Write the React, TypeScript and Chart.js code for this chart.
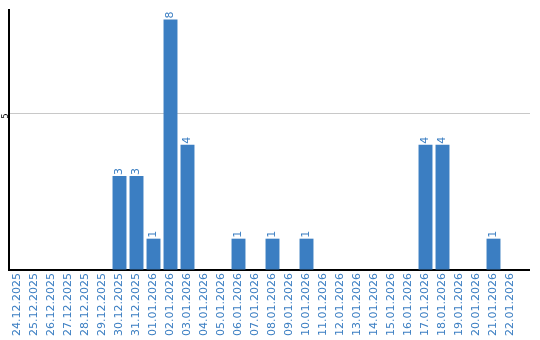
import React, { useEffect, useRef } from "react";
import { Chart, registerables } from "chart.js";

Chart.register(...registerables);

const categories = [
  "24.12.2025", "25.12.2025", "26.12.2025", "27.12.2025", "28.12.2025", "29.12.2025",
  "30.12.2025", "31.12.2025", "01.01.2026", "02.01.2026", "03.01.2026", "04.01.2026",
  "05.01.2026", "06.01.2026", "07.01.2026", "08.01.2026", "09.01.2026", "10.01.2026",
  "11.01.2026", "12.01.2026", "13.01.2026", "14.01.2026", "15.01.2026", "16.01.2026",
  "17.01.2026", "18.01.2026", "19.01.2026", "20.01.2026", "21.01.2026", "22.01.2026",
];
const values = [
  0, 0, 0, 0, 0, 0,
  3, 3, 1, 8, 4, 0,
  0, 1, 0, 1, 0, 1,
  0, 0, 0, 0, 0, 0,
  4, 4, 0, 0, 1, 0,
];
const yTicks = [5];

const BLUE = "#3b7ec2";
const FONT = "DejaVu Sans";

const valueLabels = {
  id: "valueLabels",
  afterDatasetsDraw(chart: any) {
    const ctx = chart.ctx;
    const meta = chart.getDatasetMeta(0);
    ctx.save();
    ctx.fillStyle = BLUE;
    ctx.font = `11px "${FONT}"`;
    ctx.textAlign = "left";
    ctx.textBaseline = "middle";
    meta.data.forEach((bar: any, i: number) => {
      const v = chart.data.datasets[0].data[i];
      if (!v) return;
      ctx.save();
      ctx.translate(bar.x, bar.y - 1);
      ctx.rotate(-Math.PI / 2);
      ctx.fillText(String(v), 0, 0);
      ctx.restore();
    });
    ctx.restore();
  },
};

const extendLines = {
  id: "extendLines",
  afterDraw(chart: any) {
    const ctx = chart.ctx;
    const area = chart.chartArea;
    const y = chart.scales.y;
    const end = chart.width - 10;
    ctx.save();
    yTicks.forEach((t) => {
      const py = Math.round(y.getPixelForValue(t)) + 0.5;
      ctx.strokeStyle = "#c8c8c8";
      ctx.lineWidth = 1;
      ctx.beginPath();
      ctx.moveTo(area.right, py);
      ctx.lineTo(end, py);
      ctx.stroke();
    });
    const py0 = y.getPixelForValue(0);
    ctx.strokeStyle = "#000";
    ctx.lineWidth = 2;
    ctx.beginPath();
    ctx.moveTo(area.right - 1, py0);
    ctx.lineTo(end, py0);
    ctx.stroke();
    ctx.restore();
  },
};

export default function App() {
  const ref = useRef<HTMLCanvasElement>(null);
  useEffect(() => {
    document.body.style.margin = "0";
    const chart = new Chart(ref.current!, {
      type: "bar",
      data: {
        labels: categories,
        datasets: [
          {
            data: values,
            backgroundColor: BLUE,
            barPercentage: 0.82,
            categoryPercentage: 1,
          },
        ],
      },
      options: {
        animation: false,
        responsive: false,
        layout: { padding: { top: 10, right: 21, left: 0, bottom: 0 } },
        plugins: { legend: { display: false }, tooltip: { enabled: false } },
        scales: {
          x: {
            grid: { display: false, drawTicks: false },
            border: { display: true, color: "#000", width: 2 },
            ticks: {
              autoSkip: false,
              minRotation: 90,
              maxRotation: 90,
              padding: 3,
              color: BLUE,
              font: { family: FONT, size: 11 },
            },
            afterFit(scale: any) {
              scale.height = 70;
            },
          },
          y: {
            min: 0,
            max: 8.3,
            grid: { color: "#c8c8c8", drawTicks: false },
            border: { display: true, color: "#000", width: 2 },
            ticks: {
              stepSize: 5,
              includeBounds: false,
              minRotation: 90,
              maxRotation: 90,
              padding: 3,
              color: "#000",
              font: { family: FONT, size: 8 },
              callback: (v: any) => (yTicks.includes(v) ? String(v) : ""),
            },
            afterFit(scale: any) {
              scale.width = 9;
            },
          },
        },
      },
      plugins: [valueLabels, extendLines],
    });
    return () => chart.destroy();
  }, []);
  return <canvas ref={ref} width={540} height={340} />;
}
